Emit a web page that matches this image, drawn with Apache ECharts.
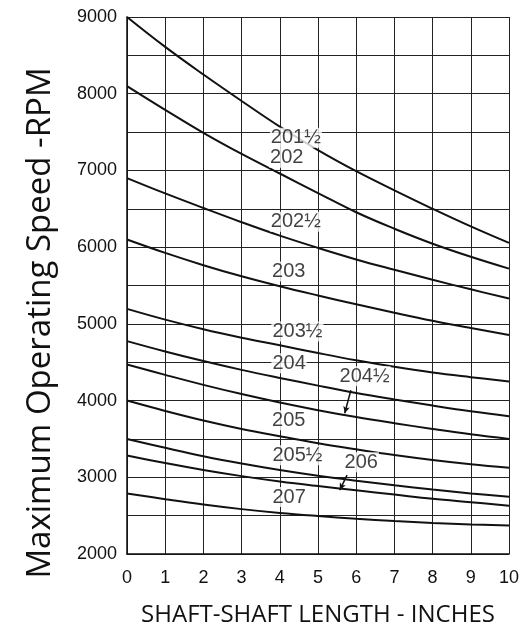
<!DOCTYPE html>
<html>
<head>
<meta charset="utf-8">
<script src="https://cdn.jsdelivr.net/npm/echarts@6/dist/echarts.min.js"></script>
<style>
  html, body { margin: 0; padding: 0; background: #fff; }
  #chart { width: 522px; height: 632px; }
</style>
</head>
<body>
<div id="chart"></div>
<script>
// ---- data ----
const shaftLength = [0, 1, 2, 3, 4, 5, 6, 7, 8, 9, 10];
const yTickLabels = [2000, 3000, 4000, 5000, 6000, 7000, 8000, 9000];
const xTickLabels = [0, 1, 2, 3, 4, 5, 6, 7, 8, 9, 10];

const seriesNames = ['201½', '202', '202½', '203', '203½', '204', '204½', '205', '205½', '206', '207'];
const rpm201h = [9000, 8610, 8250, 7905, 7570, 7265, 6990, 6740, 6500, 6270, 6055];
const rpm202  = [8100, 7790, 7490, 7215, 6960, 6705, 6455, 6240, 6045, 5875, 5720];
const rpm202h = [6900, 6700, 6510, 6325, 6150, 5990, 5840, 5705, 5575, 5450, 5330];
const rpm203  = [6100, 5925, 5765, 5620, 5490, 5370, 5255, 5145, 5040, 4945, 4855];
const rpm203h = [5195, 5055, 4930, 4820, 4720, 4620, 4525, 4440, 4365, 4305, 4250];
const rpm204  = [4775, 4640, 4515, 4400, 4295, 4195, 4100, 4015, 3935, 3860, 3795];
const rpm204h = [4470, 4335, 4205, 4085, 3975, 3875, 3785, 3705, 3630, 3560, 3500];
const rpm205  = [4000, 3865, 3740, 3630, 3535, 3445, 3365, 3290, 3225, 3170, 3125];
const rpm205h = [3500, 3385, 3275, 3180, 3095, 3020, 2955, 2895, 2840, 2790, 2745];
const rpm206  = [3285, 3185, 3095, 3015, 2945, 2885, 2830, 2775, 2720, 2675, 2630];
const rpm207  = [2790, 2715, 2645, 2585, 2535, 2495, 2460, 2430, 2405, 2385, 2370];
const curves = [rpm201h, rpm202, rpm202h, rpm203, rpm203h, rpm204, rpm204h, rpm205, rpm205h, rpm206, rpm207];

// curve label anchors: x (left edge) and rpm (vertical centre)
const labelX   = [3.74, 3.72, 3.74, 3.77, 3.78, 3.78, 5.54, 3.77, 3.78, 5.67, 3.78];
const labelRpm = [7425, 7165, 6332, 5682, 4901, 4485, 4316, 3743, 3288, 3197, 2742];

// pointer arrows: [x1, rpm1, x2, rpm2]
const arrowSegs = [
  [5.86, 4134, 5.70, 3834],
  [5.76, 3028, 5.57, 2833]
];

// ---- chart ----
const chart = echarts.init(document.getElementById('chart'), null, { renderer: 'canvas' });

const lineSeries = curves.map((vals, i) => ({
  name: seriesNames[i],
  type: 'line',
  data: shaftLength.map((x, j) => [x, vals[j]]),
  smooth: 0.4,
  symbol: 'none',
  lineStyle: { color: '#111', width: 2 },
  z: 3,
  silent: true
}));

const labelSeries = {
  type: 'scatter',
  symbolSize: 0,
  z: 5,
  silent: true,
  data: seriesNames.map((n, i) => [labelX[i], labelRpm[i], n]),
  label: {
    show: true,
    position: 'right',
    distance: 0,
    formatter: p => p.data[2],
    fontFamily: 'Liberation Sans, Arial, sans-serif',
    fontSize: 20,
    color: '#111',
    backgroundColor: '#fff',
    padding: [0, 1, 0, 1]
  },
  markLine: {
    silent: true,
    symbol: ['none', 'arrow'],
    symbolSize: [5, 7],
    label: { show: false },
    lineStyle: { color: '#111', width: 1.5, type: 'solid' },
    data: arrowSegs.map(s => [{ coord: [s[0], s[1]] }, { coord: [s[2], s[3]] }])
  }
};

chart.setOption({
  animation: false,
  backgroundColor: '#fff',
  grid: { left: 127, right: 11, top: 17, bottom: 77, containLabel: false },
  xAxis: {
    type: 'value',
    min: 0, max: 10, interval: 1,
    name: 'SHAFT-SHAFT LENGTH - INCHES',
    nameLocation: 'middle',
    nameGap: 49,
    nameTextStyle: { fontFamily: 'Open Sans', fontSize: 24, color: '#111' },
    axisLine: { show: true, lineStyle: { color: '#111', width: 1.5 } },
    axisTick: { show: false },
    axisLabel: {
      margin: 15,
      fontFamily: 'Liberation Sans, Arial, sans-serif',
      fontSize: 18, color: '#111',
      formatter: v => xTickLabels.includes(v) ? String(v) : ''
    },
    splitLine: { show: true, lineStyle: { color: '#222', width: 1 } }
  },
  yAxis: {
    type: 'value',
    min: 2000, max: 9000, interval: 500,
    axisLine: { show: true, lineStyle: { color: '#111', width: 1.5 } },
    axisTick: { show: false },
    axisLabel: {
      margin: 10,
      fontFamily: 'Liberation Sans, Arial, sans-serif',
      fontSize: 18, color: '#111',
      formatter: v => yTickLabels.includes(v) ? String(v) : ''
    },
    splitLine: { show: true, lineStyle: { color: '#222', width: 1 } }
  },
  graphic: [{
    type: 'text',
    x: 41,
    y: 323,
    rotation: Math.PI / 2,
    silent: true,
    style: {
      text: 'Maximum Operating Speed -RPM',
      fontFamily: 'Open Sans',
      fontSize: 33,
      fill: '#111',
      align: 'center',
      verticalAlign: 'middle',
      textAlign: 'center',
      textVerticalAlign: 'middle'
    }
  }],
  series: lineSeries.concat([labelSeries])
});
</script>
</body>
</html>
